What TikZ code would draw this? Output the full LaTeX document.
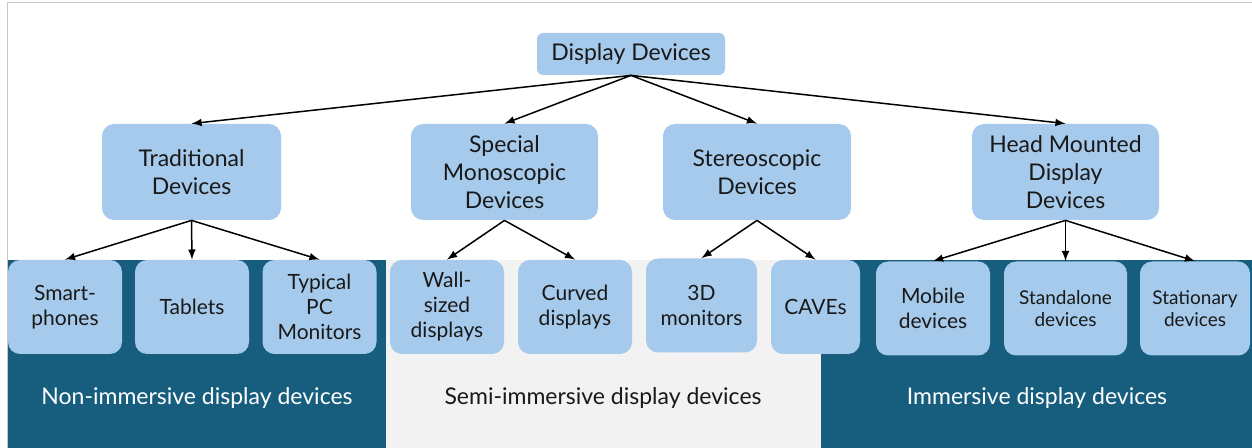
\documentclass[tikz,border=0pt]{standalone}
\usepackage{fontspec}
\setmainfont{Lato}
\definecolor{bandblue}{HTML}{175E7E}
\definecolor{bandgray}{HTML}{F2F2F2}
\definecolor{boxblue}{HTML}{A6CAEC}
\definecolor{framegray}{HTML}{C8C8C8}

\begin{document}
\begin{tikzpicture}[x=0.5pt, y=-0.5pt]
  \tikzset{>=latex}
  \tikzset{
    box/.style={fill=boxblue, rounded corners=6pt, align=center, inner sep=2pt, text=black!90},
    topbox/.style={box, rounded corners=3pt, minimum width=94pt, minimum height=21pt,
      font=\fontsize{11.5}{14}\selectfont},
    midbox/.style={box, minimum width=89.5pt, minimum height=48pt,
      font=\fontsize{11.5}{14}\selectfont},
    lowbox/.style={box, minimum width=57pt, minimum height=47pt,
      font=\fontsize{10.5}{12.5}\selectfont},
    tinybox/.style={lowbox, font=\fontsize{9.5}{11.3}\selectfont},
    bandtext/.style={font=\fontsize{11.5}{14}\selectfont},
    link/.style={->, line width=0.75pt},
  }
  \useasboundingbox (0,0) rectangle (1252,448);
  %
  % background bands
  \draw [framegray, line width=0.5pt] (7,448) -- (7,3) -- (1252,3);
  \fill [bandblue] (8,260) rectangle (386,448);
  \fill [bandgray] (386,260) rectangle (821,448);
  \fill [bandblue] (821,260) rectangle (1252,448);
  %
  \node [topbox] (dd) at (631,54) {Display Devices};
  %
  \node [midbox] (trad)   at (191.5,172)  {Traditional\\Devices};
  \node [midbox, minimum width=93.5pt] (mono)   at (504.5,172)  {Special\\Monoscopic\\Devices};
  \node [midbox, minimum width=94pt]   (stereo) at (757,172)    {Stereoscopic\\Devices};
  \node [midbox, minimum width=93.5pt] (hmd)    at (1065.5,172) {Head Mounted\\Display\\Devices};
  %
  \node [lowbox] (smart)  at (65,307)     {Smart-\\phones};
  \node [lowbox] (tab)    at (192,307)    {Tablets};
  \node [lowbox] (pc)     at (319.5,307)  {Typical\\PC\\Monitors};
  \node [lowbox] (wall)   at (447,307)    {Wall-\\sized\\displays};
  \node [lowbox] (curved) at (575,307)    {Curved\\displays};
  \node [lowbox, minimum width=55.5pt] (mon3d) at (701.5,305.5) {3D\\monitors};
  \node [lowbox, minimum width=44.5pt] (cave)  at (815.5,307)   {CAVEs};
  \node [lowbox] (mob)    at (933,308.5)  {Mobile\\devices};
  \node [tinybox, minimum width=61.5pt] (stand) at (1065.5,308.5) {Standalone\\devices};
  \node [tinybox, minimum width=55pt]   (stat)  at (1195,308.5)   {Stationary\\devices};
  %
  \node [bandtext, text=white] (nonimm)  at (197,398)  {Non-immersive display devices};
  \node [bandtext, text=black!90] (semiimm) at (603,398) {Semi-immersive display devices};
  \node [bandtext, text=white] (imm)     at (1037,398) {Immersive display devices};
  %
  \foreach \n in {trad,mono,stereo,hmd} {
    \draw [link] (dd.south) -- (\n.north);
  }
  \foreach \n in {smart,tab,pc} {
    \draw [link] (trad.south) -- (\n.north);
  }
  \foreach \n in {wall,curved} {
    \draw [link] (mono.south) -- (\n.north);
  }
  \foreach \n in {mon3d,cave} {
    \draw [link] (stereo.south) -- (\n.north);
  }
  \foreach \n in {mob,stand,stat} {
    \draw [link] (hmd.south) -- (\n.north);
  }
\end{tikzpicture}
\end{document}
